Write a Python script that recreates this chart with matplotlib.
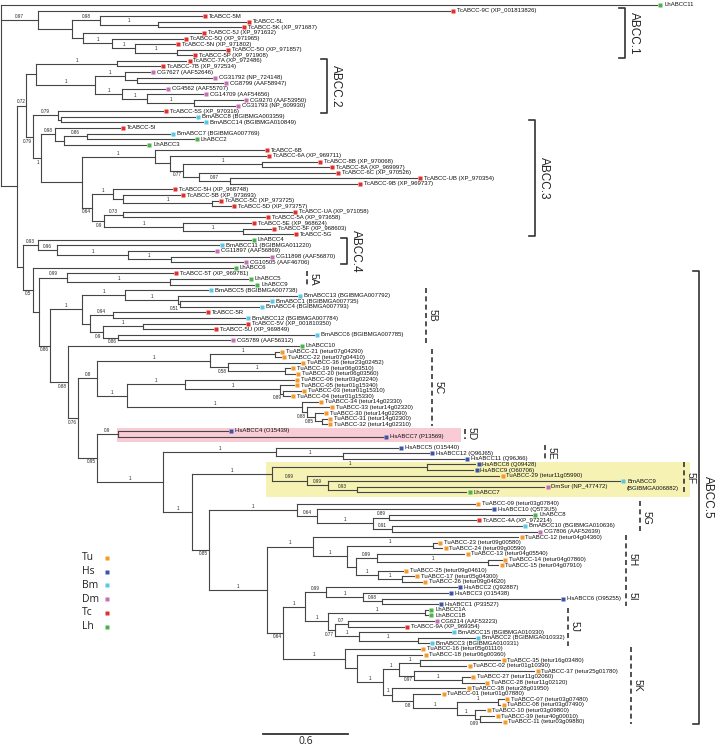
import matplotlib
matplotlib.use("Agg")
import matplotlib.pyplot as plt
from matplotlib.collections import LineCollection
from matplotlib.patches import Rectangle

plt.rcParams['font.family'] = ['Liberation Sans', 'DejaVu Sans']

# ---------------- data: sub-trees in Newick (branch lengths, support values) ----------------
ABCC1 = ("(TcABCC-9C:2.908,((TcABCC-5M:0.720,(TcABCC-5L:0.621,TcABCC-5K:0.586)1:0.409)0.98:0.198,"
         "(TcABCC-5J:0.833,(TcABCC-5Q:0.501,(TcABCC-5N:0.282,(TcABCC-5O:0.339,TcABCC-5P:0.106)1:0.296)1:0.162)1:0.205)"
         ":0.078):0.240)0.97")
ABCC2 = ("((TcABCC-7A:0.487,TcABCC-7B:0.303)1:0.572,((CG7627:0.176,(CG31792:0.529,CG8799:0.607):0.085)1:0.212,"
         "(CG4562:0.303,(CG14709:0.395,(CG9270:0.346,CG31793:0.289)1:0.332)1:0.176)1:0.191)1:0.416)")
ABCC3 = ("((TcABCC-5S:0.741,(BmABCC8:0.946,BmABCC14:1.002):0.021)0.79:0.176,"
         "((TcABCC-5I:0.459,((BmABCC7:0.586,LhABCC2:0.755)0.86:0.162,LhABCC3:0.579):0.064)0.98:0.099,"
         "((TcABCC-6B:0.769,(TcABCC-6A:0.677,((TcABCC-8B:0.388,TcABCC-8A:0.473)1:0.558,"
         "(TcABCC-6C:0.960,(TcABCC-UB:1.320,TcABCC-9B:0.896)0.97:0.219):0.113)0.77:0.092):0.106)1:0.515,"
         "((TcABCC-5H:0.416,(TcABCC-5B:0.402,(TcABCC-5C:0.042,TcABCC-5D:0.134)1:0.628):0.071)1:0.148,"
         "((TcABCC-UA:1.193,TcABCC-5A:1.002)0.73:0.134,(TcABCC-5E:0.480,(TcABCC-5F:0.198,TcABCC-5G:0.353)1:0.423)1:0.558)"
         "0.9:0.085)0.64:0.071):0.289)1:0.056)0.79")
ABCC4 = "(LhABCC4:1.503,(BmABCC11:1.143,(CG11897:0.607,(CG11898:0.692,CG10505:0.508)1:0.303)1:0.501)0.96:0.134)0.93"
C5A = "(TcABCC-5T:0.748,(LhABCC5:0.550,LhABCC9:0.593)1:0.727)0.99"
C5B = ("((BmABCC5:0.586,(BmABCC13:0.840,(BmABCC1:0.628,BmABCC4:0.558)0.51:0.014)1:0.374)1:0.303,"
       "((TcABCC-5R:0.649,BmABCC12:0.932)0.94:0.162,((TcABCC-5V:0.720,TcABCC-5U:0.494)1:0.282,"
       "(BmABCC6:1.383,CG5789:0.790)0.86:0.106)0.9:0.092):0.056)1")
C5C = ("(((TuABCC-21:0.028,TuABCC-22:0.042)1:0.459,(TuABCC-36:0.508,(TuABCC-19:0.035,TuABCC-20:0.071)1:0.402)0.58:0.127)1:0.797,"
       "((TuABCC-06:0.769,(TuABCC-05:0.099,(TuABCC-03:0.127,TuABCC-04:0.049)0.89:0.021)1:0.670)1:0.409,"
       "(TuABCC-34:0.113,(TuABCC-33:0.155,(TuABCC-30:0.056,(TuABCC-31:0.035,TuABCC-32:0.035):0.049)0.85:0.056)0.88:0.035)1:1.235)"
       "1:0.212)0.8")
C5D = "(HsABCC4:0.776,HsABCC7:1.870)0.9"
C5E = "(HsABCC5:0.861,(HsABCC12:0.607,HsABCC11:0.854)1:0.473)1"
C5F = ("((HsABCC8:0.339,HsABCC9:0.325)1:1.094,(TuABCC-29:1.355,(BmABCC9:2.060,(DmSur:1.320,LhABCC7:0.769)0.93:0.205)"
       "0.99:0.148)0.99:0.247)1")
C5G = ("(TuABCC-09:1.256,(HsABCC10:1.228,((LhABCC8:1.009,TcABCC-4A:0.614)0.89:0.113,(BmABCC10:0.917,CG7806:1.023)0.91:0.134)"
       "1:0.395)0.64:0.141)1")
C5H = ("(TuABCC-12:1.447,((TuABCC-23:0.028,TuABCC-24:0.064)1:0.607,((TuABCC-13:0.614,(TuABCC-14:0.099,TuABCC-15:0.071)1:0.783)"
       "0.99:0.148,(TuABCC-25:0.176,(TuABCC-17:0.085,TuABCC-26:0.141)1:0.169)1:0.155):0.064)1:0.240)1")
C5I = "(HsABCC2:0.924,(HsABCC3:0.600,(HsABCC6:1.256,HsABCC1:0.395)0.98:0.134)1:0.261)0.99"
C5J = ("((LhABCC1A:0.021,LhABCC1B:0.021)1:0.685,((CG6214:0.607,TcABCC-9A:0.395)0.7:0.092,"
       "(BmABCC15:0.649,(BmABCC2:0.402,BmABCC3:0.078)1:0.416)1:0.169)0.77:0.049)1")
C5K = ("(TuABCC-16:0.529,(TuABCC-18:0.459,(((TuABCC-35:0.565,TuABCC-02:0.325)1:0.148,(TuABCC-37:0.847,"
       "(TuABCC-27:0.056,TuABCC-28:0.155)1:0.339)0.97:0.106)1:0.113,(TuABCC-38:0.515,(TuABCC-01:0.191,"
       "((TuABCC-07:0.042,TuABCC-08:0.014)1:0.289,(TuABCC-10:0.071,(TuABCC-39:0.099,TuABCC-11:0.148)0.99:0.035)1:0.127)"
       "1:0.311)0.8:0.148)1:0.064)1:0.183):0.085)1")

# backbone of the tree
N305 = "(" + C5I + ":0.148," + C5J + ":0.162)1"
N283 = "(" + N305 + ":0.155," + C5K + ":0.438)0.64"
N267 = "(" + C5H + ":0.325," + N283 + ":0.113)1"
N209 = "(" + C5G + ":0.621," + N267 + ":0.409)0.85"
N192 = "(" + C5F + ":0.565," + N209 + ":0.120)1"
N163 = "(" + C5E + ":0.797," + N192 + ":0.205)1"
N97 = "(" + C5D + ":0.148," + N163 + ":0.466)0.95"
N78 = "(" + C5C + ":0.134," + N97 + ":0.134)0.76"
N68 = "(LhABCC10:1.630," + N78 + ":0.071)0.88"
N50 = "(" + C5B + ":0.226," + N68 + ":0.127)0.86"
N39 = "(" + C5A + ":0.198," + N50 + ":0.078)"
N33 = "(LhABCC6:1.411," + N39 + ":0.042)0.5"
N23 = "(" + ABCC4 + ":0.106," + N33 + ":0.071)"
A23 = "(" + ABCC2 + ":0.071," + ABCC3 + ":0.049)0.72"
R2 = "(" + A23 + ":0.064," + N23 + ":0.042)"
TREE = "(LhABCC11:4.63," + ABCC1 + ":0.261," + R2 + ":0.113);"

ACCESSION = {
    "TcABCC-9C": "XP_001813826", "TcABCC-5K": "XP_971687", "TcABCC-5J": "XP_971632", "TcABCC-5Q": "XP_971965",
    "TcABCC-5N": "XP_971802", "TcABCC-5O": "XP_971857", "TcABCC-5P": "XP_971908", "TcABCC-7A": "XP_972486",
    "TcABCC-7B": "XP_972534", "CG7627": "AAF52646", "CG31792": "NP_724148", "CG8799": "AAF58947",
    "CG4562": "AAF55707", "CG14709": "AAF54656", "CG9270": "AAF53950", "CG31793": "NP_609930",
    "TcABCC-5S": "XP_970316", "BmABCC8": "BGIBMGA003359", "BmABCC14": "BGIBMGA010849", "BmABCC7": "BGIBMGA007769",
    "TcABCC-6A": "XP_969711", "TcABCC-8B": "XP_970068", "TcABCC-8A": "XP_969997", "TcABCC-6C": "XP_970526",
    "TcABCC-UB": "XP_970354", "TcABCC-9B": "XP_969737", "TcABCC-5H": "XP_968748", "TcABCC-5B": "XP_973693",
    "TcABCC-5C": "XP_973725", "TcABCC-5D": "XP_973757", "TcABCC-UA": "XP_971058", "TcABCC-5A": "XP_973658",
    "TcABCC-5E": "XP_968624", "TcABCC-5F": "XP_968603", "BmABCC11": "BGIBMGA011220", "CG11897": "AAF56869",
    "CG11898": "AAF56870", "CG10505": "AAF46706", "TcABCC-5T": "XP_969781", "BmABCC5": "BGIBMGA007738",
    "BmABCC13": "BGIBMGA007792", "BmABCC1": "BGIBMGA007735", "BmABCC4": "BGIBMGA007793",
    "BmABCC12": "BGIBMGA007784", "TcABCC-5V": "XP_001810350", "TcABCC-5U": "XP_969849",
    "BmABCC6": "BGIBMGA007785", "CG5789": "AAF56312",
    "TuABCC-21": "tetur07g04290", "TuABCC-22": "tetur07g04410", "TuABCC-36": "tetur23g02452",
    "TuABCC-19": "tetur06g03510", "TuABCC-20": "tetur06g03560", "TuABCC-06": "tetur03g02240",
    "TuABCC-05": "tetur01g15340", "TuABCC-03": "tetur01g15310", "TuABCC-04": "tetur01g15330",
    "TuABCC-34": "tetur14g02330", "TuABCC-33": "tetur14g02320", "TuABCC-30": "tetur14g02290",
    "TuABCC-31": "tetur14g02300", "TuABCC-32": "tetur14g02310",
    "HsABCC4": "O15439", "HsABCC7": "P13569", "HsABCC5": "O15440", "HsABCC12": "Q96J65", "HsABCC11": "Q96J66",
    "HsABCC8": "Q09428", "HsABCC9": "O60706", "TuABCC-29": "tetur11g05990", "BmABCC9": "BGIBMGA006882",
    "DmSur": "NP_477472", "TuABCC-09": "tetur03g07840", "HsABCC10": "Q5T3U5", "TcABCC-4A": "XP_972214",
    "BmABCC10": "BGIBMGA010636", "CG7806": "AAF52639", "TuABCC-12": "tetur04g04360",
    "TuABCC-23": "tetur09g00580", "TuABCC-24": "tetur09g00590", "TuABCC-13": "tetur04g05540",
    "TuABCC-14": "tetur04g07860", "TuABCC-15": "tetur04g07910", "TuABCC-25": "tetur09g04610",
    "TuABCC-17": "tetur05g04300", "TuABCC-26": "tetur09g04620", "HsABCC2": "Q92887", "HsABCC3": "O15438",
    "HsABCC6": "O95255", "HsABCC1": "P33527", "CG6214": "AAF53223", "TcABCC-9A": "XP_969354",
    "BmABCC15": "BGIBMGA010330", "BmABCC2": "BGIBMGA010332", "BmABCC3": "BGIBMGA010331",
    "TuABCC-16": "tetur05g01110", "TuABCC-18": "tetur06g00360", "TuABCC-35": "tetur16g03480",
    "TuABCC-02": "tetur01g10390", "TuABCC-37": "tetur25g01780", "TuABCC-27": "tetur11g02060",
    "TuABCC-28": "tetur11g02120", "TuABCC-38": "tetur28g01950", "TuABCC-01": "tetur01g07880",
    "TuABCC-07": "tetur03g07480", "TuABCC-08": "tetur03g07490", "TuABCC-10": "tetur03g09800",
    "TuABCC-39": "tetur40g00010", "TuABCC-11": "tetur03g09880",
}
TWO_LINE_LABELS = ["BmABCC9"]

SPECIES = ["Tu", "Hs", "Bm", "Dm", "Tc", "Lh"]
SPECIES_COLORS = ["#F39A2E", "#3D55A5", "#5CC6E6", "#C570B3", "#E1302C", "#4DB24C"]
SPECIES_PREFIX = {"Tu": "Tu", "Hs": "Hs", "Bm": "Bm", "CG": "Dm", "Dm": "Dm", "Tc": "Tc", "Lh": "Lh"}

# clade brackets: (label, first leaf, last leaf)
MAIN_CLADES = [("ABCC.1", "TcABCC-9C", "TcABCC-5P"), ("ABCC.2", "TcABCC-7A", "TcABCC-5S"),
               ("ABCC.3", "BmABCC14", "TcABCC-5G"), ("ABCC.4", "LhABCC4", "CG10505"),
               ("ABCC.5", "TcABCC-5T", "TuABCC-11")]
SUB_CLADES = [("5A", "TcABCC-5T", "LhABCC9"), ("5B", "BmABCC5", "CG5789"), ("5C", "TuABCC-21", "TuABCC-32"),
              ("5D", "HsABCC4", "HsABCC7"), ("5E", "HsABCC5", "HsABCC11"), ("5F", "HsABCC8", "LhABCC7"),
              ("5G", "TuABCC-09", "CG7806"), ("5H", "TuABCC-12", "TuABCC-26"), ("5I", "HsABCC2", "HsABCC1"),
              ("5J", "LhABCC1A", "BmABCC3"), ("5K", "TuABCC-16", "TuABCC-11")]
SCALE_LENGTH = 0.6

# ---------------- layout constants ----------------
W, H = 716, 749
PX_PER_UNIT = 141.7
X0_PX, Y0_PX, ROW_PX = 1.0, 5.0, 5.59
GAP_BEFORE = {"HsABCC4": 0.2, "HsABCC5": 1.0, "TuABCC-09": 1.0}
BELOW_LABELS = {("TcABCC-5S", "TcABCC-5G"), ("TcABCC-5I", "TcABCC-5G"), ("TcABCC-8B", "TcABCC-9B"),
                ("TcABCC-5H", "TcABCC-5G"), ("TcABCC-UA", "TcABCC-5G"), ("LhABCC6", "TuABCC-11"),
                ("BmABCC1", "BmABCC4"), ("TcABCC-5V", "CG5789"), ("BmABCC6", "CG5789"),
                ("BmABCC5", "TuABCC-11"), ("LhABCC10", "TuABCC-11"), ("TuABCC-21", "TuABCC-11"),
                ("TuABCC-36", "TuABCC-20"), ("TuABCC-03", "TuABCC-04"), ("TuABCC-33", "TuABCC-32"),
                ("TuABCC-30", "TuABCC-32"), ("HsABCC4", "TuABCC-11"), ("TuABCC-09", "TuABCC-11"),
                ("HsABCC2", "TuABCC-11"), ("CG6214", "BmABCC3"), ("TuABCC-37", "TuABCC-28"),
                ("TuABCC-01", "TuABCC-11"), ("TuABCC-39", "TuABCC-11")}
MAIN_X_PX = {"ABCC.1": 625, "ABCC.2": 327, "ABCC.3": 535, "ABCC.4": 347, "ABCC.5": 699}
SUB_X_PX = {"5A": 307, "5B": 426, "5C": 432, "5D": 465, "5E": 545, "5F": 684, "5G": 640,
            "5H": 626, "5I": 626, "5J": 568, "5K": 631}
LINE_COLOR = "#454545"


def parse_newick(s):
    pos = 0

    def node():
        nonlocal pos
        n = {"children": [], "name": "", "length": 0.0}
        if s[pos] == '(':
            pos += 1
            while True:
                n["children"].append(node())
                if s[pos] == ',':
                    pos += 1
                else:
                    pos += 1  # ')'
                    break
        start = pos
        while pos < len(s) and s[pos] not in ':,();':
            pos += 1
        n["name"] = s[start:pos]
        if pos < len(s) and s[pos] == ':':
            pos += 1
            start = pos
            while pos < len(s) and s[pos] not in ',();':
                pos += 1
            n["length"] = float(s[start:pos])
        return n
    return node()


root = parse_newick(TREE)
leaves = []
state = {"y": 0.0}


def layout(n, parent_x):
    n["x"] = parent_x + n["length"]
    n["px"] = parent_x
    if not n["children"]:
        state["y"] += GAP_BEFORE.get(n["name"], 0.0)
        n["y"] = state["y"]
        state["y"] += 1
        n["first"] = n["last"] = n["name"]
        leaves.append(n)
    else:
        for c in n["children"]:
            layout(c, n["x"])
        n["y"] = (n["children"][0]["y"] + n["children"][-1]["y"]) / 2
        n["first"] = n["children"][0]["first"]
        n["last"] = n["children"][-1]["last"]


layout(root, 0.0)
leaf_y = {l["name"]: l["y"] for l in leaves}

fig = plt.figure(figsize=(W / 100, H / 100), dpi=100)
ax = fig.add_axes([0, 0, 1, 1])
ax.set_xlim((0 - X0_PX) / PX_PER_UNIT, (W - X0_PX) / PX_PER_UNIT)
ax.set_ylim((H - Y0_PX) / ROW_PX, (0 - Y0_PX) / ROW_PX)
ax.axis('off')
DX = 1.0 / PX_PER_UNIT


def xpx(p):
    return (p - X0_PX) / PX_PER_UNIT


# highlight boxes
ax.add_patch(Rectangle((xpx(117), leaf_y["HsABCC4"] - 0.55), xpx(461) - xpx(117),
                       leaf_y["HsABCC7"] - leaf_y["HsABCC4"] + 1.5, facecolor="#F8CBD5", edgecolor="none", zorder=0))
ax.add_patch(Rectangle((xpx(266), leaf_y["HsABCC8"] - 0.45), xpx(690) - xpx(266),
                       leaf_y["LhABCC7"] - leaf_y["HsABCC8"] + 1.3, facecolor="#F5F2B4", edgecolor="none", zorder=0))

segs = []


def collect(n, is_root=False):
    if not is_root:
        segs.append([(n["px"], n["y"]), (n["x"], n["y"])])
    if n["children"]:
        segs.append([(n["x"], n["children"][0]["y"]), (n["x"], n["children"][-1]["y"])])
        for c in n["children"]:
            collect(c)
        if not is_root and n["name"]:
            if (n["first"], n["last"]) in BELOW_LABELS:
                ax.text(n["x"] - 1.5 * DX, n["y"] + 0.3, n["name"], ha="right", va="top",
                        fontsize=3.3, color="#222222")
            else:
                ax.text((n["px"] + n["x"]) / 2, n["y"] - 0.2, n["name"], ha="center", va="bottom",
                        fontsize=3.3, color="#222222")


collect(root, is_root=True)
ax.add_collection(LineCollection(segs, colors=LINE_COLOR, linewidths=0.8, capstyle="projecting", zorder=2))

color_of = dict(zip(SPECIES, SPECIES_COLORS))
for l in leaves:
    name = l["name"]
    sp = SPECIES_PREFIX[name[:2]]
    ax.plot(l["x"] + 3.3 * DX, l["y"], marker="s", ms=3.1, color=color_of[sp], mec="none", zorder=3)
    acc = ACCESSION.get(name)
    if name in TWO_LINE_LABELS:
        ax.text(l["x"] + 7 * DX, l["y"], name, ha="left", va="center", fontsize=4.3, color="#111111")
        ax.text(l["x"] + 7 * DX, l["y"] + 1.3, "(" + acc + ")", ha="left", va="center", fontsize=4.3,
                color="#111111")
    else:
        txt = name if acc is None else f"{name} ({acc})"
        ax.text(l["x"] + 7 * DX, l["y"], txt, ha="left", va="center", fontsize=4.3, color="#111111")

# main clade brackets
for label, a, b in MAIN_CLADES:
    x = xpx(MAIN_X_PX[label])
    y1, y2 = leaf_y[a] - 0.4, leaf_y[b] + 0.4
    ax.plot([x - 6 * DX, x, x, x - 6 * DX], [y1, y1, y2, y2], color="#333333", lw=1.2, zorder=2)
    ax.text(x + 9 * DX, (y1 + y2) / 2, label, rotation=270, ha="center", va="center", fontsize=8.5,
            color="#222222")

# sub-clade brackets
for label, a, b in SUB_CLADES:
    x = xpx(SUB_X_PX[label])
    y1, y2 = leaf_y[a] - 0.4, leaf_y[b] + 0.4
    ax.plot([x, x], [y1, y2], color="#333333", lw=1.2, linestyle=(0, (3, 2)), zorder=2)
    ax.text(x + 7 * DX, (y1 + y2) / 2, label, rotation=270, ha="center", va="center", fontsize=7.5,
            color="#222222")

# legend
for i, (sp, col) in enumerate(zip(SPECIES, SPECIES_COLORS)):
    yy = (558 + 13.7 * i - Y0_PX) / ROW_PX
    ax.text(xpx(82), yy, sp, ha="left", va="center", fontsize=7.5, color="#222222", family=["Open Sans", "DejaVu Sans"])
    ax.plot(xpx(107), yy, marker="s", ms=3.1, color=col, mec="none")

# scale bar
sy = (734 - Y0_PX) / ROW_PX
sx = xpx(263)
ax.plot([sx, sx + SCALE_LENGTH], [sy, sy], color="#333333", lw=1.3)
ax.text(sx + SCALE_LENGTH / 2, (742 - Y0_PX) / ROW_PX, f"{SCALE_LENGTH}", ha="center", va="center", fontsize=7.5,
        color="#222222", family=["Open Sans", "DejaVu Sans"])

fig.savefig("out.png", dpi=100)
